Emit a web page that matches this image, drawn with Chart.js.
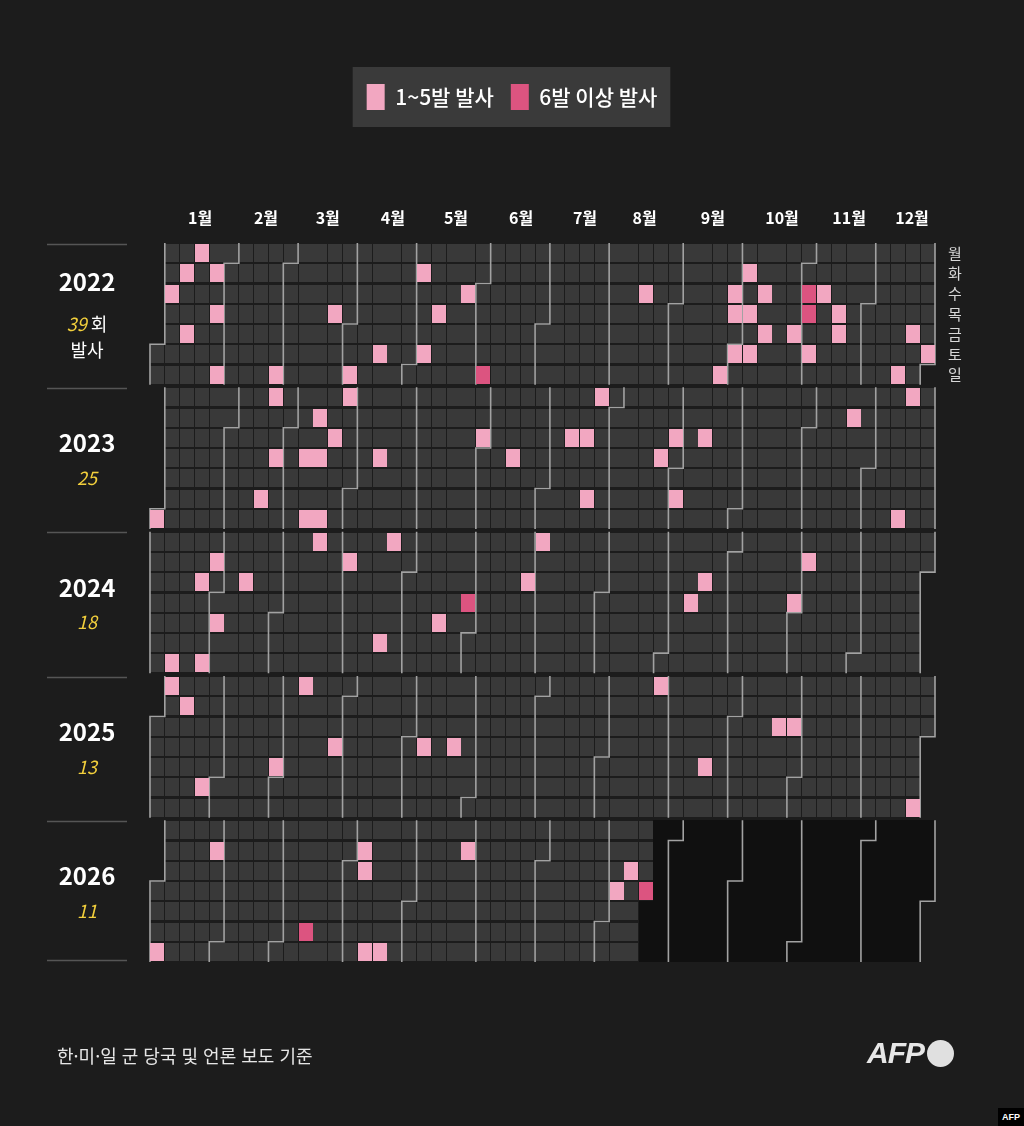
<!DOCTYPE html>
<html lang="ko">
<head>
<meta charset="utf-8">
<title>북한 미사일 발사</title>
<script src="https://cdn.jsdelivr.net/npm/chart.js@4.4.1/dist/chart.umd.min.js"></script>
<style>
  html, body { margin: 0; padding: 0; background: #1c1c1c; }
  #wrap { position: relative; width: 1024px; height: 1126px; overflow: hidden; }
  #note { position: absolute; left: 57px; top: 1042px; font: 18px "Noto Sans CJK KR", sans-serif; color: #e6e6e6; }
  #logo { position: absolute; left: 867px; top: 1039px; height: 28px; display: flex; align-items: center; }
  #logo span { font: italic 700 30px "Liberation Sans", sans-serif; color: #e6e6e6; letter-spacing: -1px; }
  #logo i { display: inline-block; width: 27px; height: 27px; border-radius: 50%; background: #e0e0e0; margin-left: 3px; }
  #corner { position: absolute; left: 998px; top: 1108px; width: 26px; height: 18px; background: #000; color: #fff;
            font: 700 9px "Liberation Sans", sans-serif; line-height: 18px; text-align: center; }
</style>
</head>
<body>
<div id="wrap">
  <canvas id="chart" width="1024" height="1126"></canvas>
  <div id="note">한·미·일 군 당국 및 언론 보도 기준</div>
  <div id="logo"><span>AFP</span><i></i></div>
  <div id="corner">AFP</div>
</div>
<script>
const years = [2022, 2023, 2024, 2025, 2026];
const yearTotals = [39, 25, 18, 13, 11];
const monthLabels = ["1월", "2월", "3월", "4월", "5월", "6월", "7월", "8월", "9월", "10월", "11월", "12월"];
const monthTickWeeks = [3.38, 7.83, 12.0, 16.4, 20.66, 25.05, 29.37, 33.4, 38.0, 42.67, 47.2, 51.45];
const dayLabels = ["월", "화", "수", "목", "금", "토", "일"];
const lastDataDay = "2026-08-20";

// 1~5발 발사
const launchesSmall = [
  "2022-01-05", "2022-01-11", "2022-01-14", "2022-01-17", "2022-01-25", "2022-01-27", "2022-01-30",
  "2022-02-27", "2022-03-24", "2022-04-03", "2022-04-16", "2022-05-03", "2022-05-07", "2022-05-12",
  "2022-05-25", "2022-08-17", "2022-09-25", "2022-09-28", "2022-09-29", "2022-10-01", "2022-10-04",
  "2022-10-06", "2022-10-08", "2022-10-12", "2022-10-14", "2022-10-28", "2022-11-05", "2022-11-09",
  "2022-11-17", "2022-11-18", "2022-12-18", "2022-12-23", "2022-12-31",
  "2023-01-01", "2023-02-18", "2023-02-20", "2023-02-23", "2023-03-09", "2023-03-12", "2023-03-14",
  "2023-03-16", "2023-03-19", "2023-03-22", "2023-03-27", "2023-04-13", "2023-05-31", "2023-06-15",
  "2023-07-12", "2023-07-19", "2023-07-22", "2023-07-24", "2023-08-24", "2023-08-30", "2023-09-02",
  "2023-09-13", "2023-11-21", "2023-12-17", "2023-12-18",
  "2024-01-14", "2024-01-24", "2024-01-28", "2024-01-30", "2024-02-02", "2024-02-14", "2024-03-18",
  "2024-04-02", "2024-04-20", "2024-04-22", "2024-05-17", "2024-06-26", "2024-07-01", "2024-09-12",
  "2024-09-18", "2024-10-31", "2024-11-05",
  "2025-01-06", "2025-01-14", "2025-01-25", "2025-02-28", "2025-03-10", "2025-03-27", "2025-05-08",
  "2025-05-22", "2025-08-25", "2025-09-19", "2025-10-22", "2025-10-29", "2025-12-28",
  "2026-01-04", "2026-01-27", "2026-04-07", "2026-04-08", "2026-04-12", "2026-04-19", "2026-05-26",
  "2026-08-06", "2026-08-12"
];
// 6발 이상 발사
const launchesLarge = ["2022-06-05", "2022-11-02", "2022-11-03", "2024-05-30", "2026-03-14", "2026-08-20"];

const pinkLight = "#f2a7c1";
const pinkDark = "#dc5480";
const cellGray = "#393939";
const futureBlack = "#101010";
const lineGray = "#a2a2a2";

const GAP = 0.13;               // space between two years, in rows
const YEAR_SPAN = 7 + GAP;
const Y_MAX = (years.length - 1) * YEAR_SPAN + 7;
const DAY = 864e5;

function parseDay(s) {
  const [y, m, d] = s.split("-").map(Number);
  return Date.UTC(y, m - 1, d);
}
function jan1Offset(year) {
  return (new Date(Date.UTC(year, 0, 1)).getUTCDay() + 6) % 7;
}
function cellPoint(year, dayIndex) {
  const k = dayIndex + jan1Offset(year);
  const yi = years.indexOf(year);
  return { x: Math.floor(k / 7) + 0.5, y: yi * YEAR_SPAN + (k % 7) + 0.5 };
}
function pointFor(s) {
  const year = Number(s.slice(0, 4));
  return cellPoint(year, Math.round((parseDay(s) - Date.UTC(year, 0, 1)) / DAY));
}
function cellImage(color, w, h) {
  const c = document.createElement("canvas");
  c.width = w;
  c.height = h;
  const g = c.getContext("2d");
  g.fillStyle = color;
  g.fillRect(0, 0, w, h);
  return c;
}

// every day of every year: grey until the last data day, black after it
const pastCells = [];
const futureCells = [];
const endT = parseDay(lastDataDay);
years.forEach(year => {
  const n = Math.round((Date.UTC(year + 1, 0, 1) - Date.UTC(year, 0, 1)) / DAY);
  for (let i = 0; i < n; i++) {
    const t = Date.UTC(year, 0, 1) + i * DAY;
    (t <= endT ? pastCells : futureCells).push(cellPoint(year, i));
  }
});

// month borders (also the start and end of each year)
const monthLines = [];
years.forEach((year, yi) => {
  const top = yi * YEAR_SPAN;
  for (let m = 0; m <= 12; m++) {
    const idx = Math.round((Date.UTC(year, m, 1) - Date.UTC(year, 0, 1)) / DAY);
    const k = idx + jan1Offset(year);
    const c = Math.floor(k / 7), r = k % 7;
    if (r > 0) {
      monthLines.push({ x: c + 1, y: top }, { x: c + 1, y: top + r }, { x: c, y: top + r });
    } else {
      monthLines.push({ x: c, y: top });
    }
    monthLines.push({ x: c, y: top + 7 }, { x: null, y: null });
  }
});

const legendBackdrop = {
  id: "legendBackdrop",
  beforeDraw(chart) {
    const boxes = chart.legend && chart.legend.legendHitBoxes;
    if (!boxes || !boxes.length) return;
    const ctx = chart.ctx;
    const l = Math.min(...boxes.map(b => b.left)) - 14;
    const r = Math.max(...boxes.map(b => b.left + b.width)) + 13;
    const t = boxes[0].top - 17;
    const b = boxes[0].top + boxes[0].height + 17;
    ctx.save();
    ctx.fillStyle = "#3a3a3a";
    ctx.fillRect(l, t, r - l, b - t);
    ctx.restore();
  }
};

const yearLabels = {
  id: "yearLabels",
  afterDraw(chart) {
    const ctx = chart.ctx;
    const y = chart.scales.y;
    const cx = 87;
    const yellow = "#f2cf3c";
    ctx.save();
    ctx.strokeStyle = "#555";
    ctx.lineWidth = 1.5;
    for (let i = 0; i <= years.length; i++) {
      const py = i < years.length ? y.getPixelForValue(i * YEAR_SPAN - GAP / 2) + 2 : y.getPixelForValue(Y_MAX) - 2;
      ctx.beginPath();
      ctx.moveTo(47, Math.round(py) + 0.5);
      ctx.lineTo(127, Math.round(py) + 0.5);
      ctx.stroke();
    }
    ctx.textAlign = "center";
    ctx.textBaseline = "middle";
    years.forEach((year, i) => {
      const mid = y.getPixelForValue(i * YEAR_SPAN + 3.5);
      ctx.fillStyle = "#ffffff";
      ctx.font = "700 24px 'Noto Sans CJK KR', sans-serif";
      if (i === 0) {
        ctx.fillText(String(year), cx, mid - 32);
        ctx.font = "italic 400 18px 'Noto Sans CJK KR', sans-serif";
        const num = String(yearTotals[i]);
        const wNum = ctx.measureText(num).width;
        ctx.font = "400 18px 'Noto Sans CJK KR', sans-serif";
        const unit = " 회";
        const wUnit = ctx.measureText(unit).width;
        const start = cx - (wNum + wUnit) / 2;
        ctx.textAlign = "left";
        ctx.fillText(unit, start + wNum, mid + 10);
        ctx.font = "italic 400 18px 'Noto Sans CJK KR', sans-serif";
        ctx.fillStyle = yellow;
        ctx.fillText(num, start, mid + 10);
        ctx.textAlign = "center";
        ctx.fillStyle = "#ffffff";
        ctx.font = "400 18px 'Noto Sans CJK KR', sans-serif";
        ctx.fillText("발사", cx, mid + 36);
      } else {
        ctx.fillText(String(year), cx, mid - 15);
        ctx.font = "italic 400 18px 'Noto Sans CJK KR', sans-serif";
        ctx.fillStyle = yellow;
        ctx.fillText(String(yearTotals[i]), cx, mid + 20);
      }
    });
    ctx.restore();
  }
};

new Chart(document.getElementById("chart"), {
  type: "scatter",
  data: {
    datasets: [
      {
        label: "1~5발 발사",
        data: launchesSmall.map(pointFor),
        backgroundColor: pinkLight,
        borderColor: pinkLight,
        borderWidth: 0,
        pointStyle: cellImage(pinkLight, 14, 18),
        pointRadius: 6,
        clip: 20
      },
      {
        label: "6발 이상 발사",
        data: launchesLarge.map(pointFor),
        backgroundColor: pinkDark,
        borderColor: pinkDark,
        borderWidth: 0,
        pointStyle: cellImage(pinkDark, 14, 18),
        pointRadius: 6,
        clip: 20
      },
      {
        label: "월 경계",
        data: monthLines,
        showLine: true,
        spanGaps: false,
        borderColor: lineGray,
        borderWidth: 1.6,
        pointRadius: 0,
        clip: 20
      },
      {
        label: "발사 없음",
        data: pastCells,
        backgroundColor: cellGray,
        pointStyle: cellImage(cellGray, 14, 18),
        pointRadius: 6,
        clip: 20
      },
      {
        label: "이후",
        data: futureCells,
        backgroundColor: futureBlack,
        pointStyle: cellImage(futureBlack, 15, 21),
        pointRadius: 6,
        clip: 20
      }
    ]
  },
  options: {
    responsive: false,
    animation: false,
    events: [],
    layout: { padding: { top: 67, bottom: 164, left: 0, right: 0 } },
    plugins: {
      legend: {
        position: "top",
        labels: {
          filter: item => item.datasetIndex < 2,
          color: "#ffffff",
          font: { family: "'Noto Sans CJK KR'", size: 21, weight: "500" },
          boxWidth: 18,
          boxHeight: 26,
          padding: 17
        }
      },
      tooltip: { enabled: false }
    },
    scales: {
      x: {
        type: "linear",
        position: "top",
        min: 0,
        max: 53,
        grid: { display: false, drawTicks: false },
        border: { display: false },
        afterBuildTicks: s => { s.ticks = monthTickWeeks.map(v => ({ value: v })); },
        afterFit: s => { s.height = 123; },
        ticks: {
          autoSkip: false,
          maxRotation: 0,
          padding: 15,
          color: "#ffffff",
          font: { family: "'Noto Sans CJK KR'", size: 16, weight: "700" },
          callback: (v, i) => monthLabels[i]
        }
      },
      y: {
        type: "linear",
        reverse: true,
        min: 0,
        max: Y_MAX,
        grid: { display: false, drawTicks: false },
        border: { display: false },
        ticks: { display: false },
        afterFit: s => { s.width = 150; }
      },
      y2: {
        type: "linear",
        position: "right",
        reverse: true,
        min: 0,
        max: Y_MAX,
        grid: { display: false, drawTicks: false },
        border: { display: false },
        afterBuildTicks: s => { s.ticks = dayLabels.map((d, i) => ({ value: i + 0.5 })); },
        afterFit: s => { s.width = 89; },
        ticks: {
          autoSkip: false,
          padding: 13,
          color: "#d8d8d8",
          font: { family: "'Noto Sans CJK KR'", size: 15 },
          callback: (v, i) => dayLabels[i]
        }
      }
    }
  },
  plugins: [legendBackdrop, yearLabels]
});
</script>
</body>
</html>
